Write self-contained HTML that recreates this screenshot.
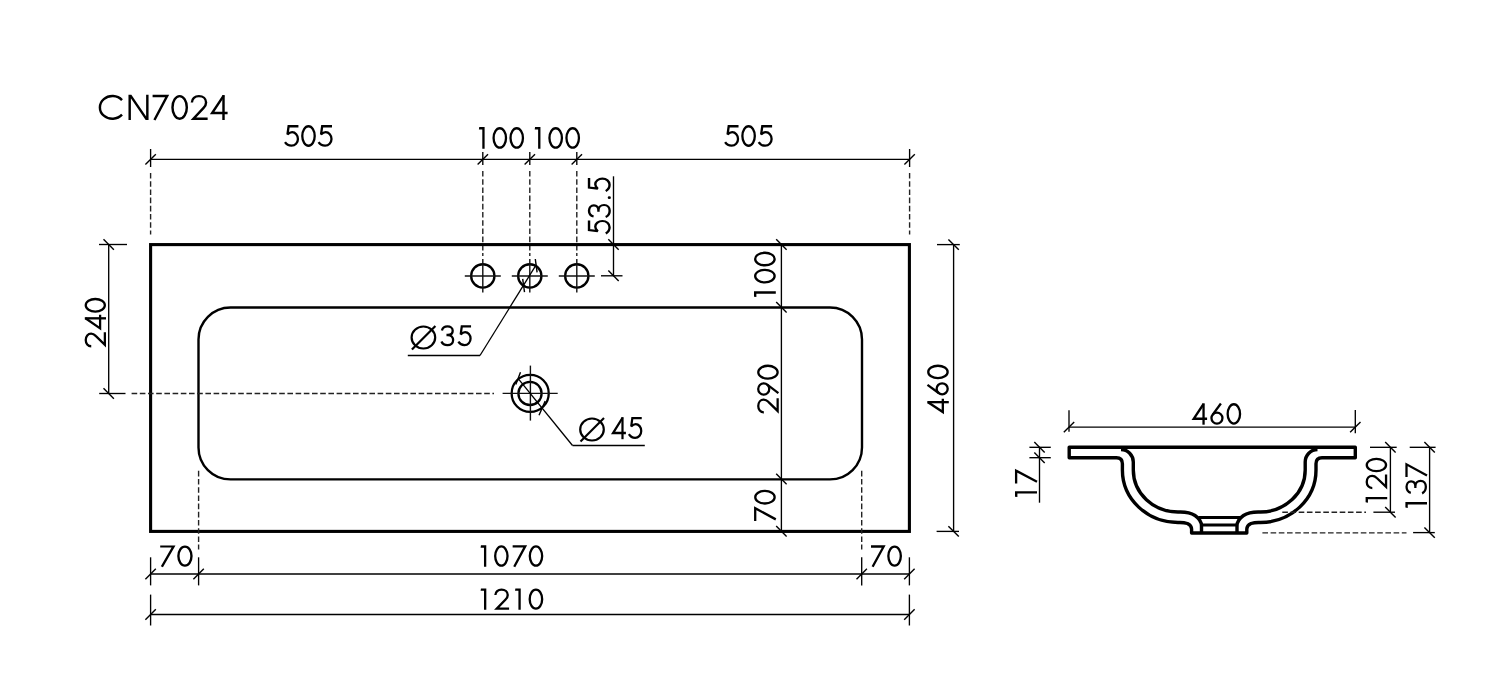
<!DOCTYPE html>
<html><head><meta charset="utf-8"><style>
html,body{margin:0;padding:0;background:#fff;width:1510px;height:693px;overflow:hidden}
svg{display:block}
.d{stroke:#000;stroke-width:1.35;fill:none}
.t{stroke:#000;stroke-width:1.4;fill:none}
.ds{stroke:#222;stroke-width:1.4;stroke-dasharray:5.6 2.6;fill:none}
.m{stroke:#000;stroke-width:3.1;fill:none}
.b{stroke:#000;stroke-width:2.4;fill:none}
.h{stroke:#000;stroke-width:2.3;fill:none}
.c{stroke:#111;stroke-width:1.4;fill:none}
.l{stroke:#000;stroke-width:1.3;fill:none}
.dm{stroke:#000;stroke-width:2.2;fill:none}
.s{stroke:#000;stroke-width:3.4;fill:none;stroke-linejoin:round}
.gl{fill:none;stroke:#000;stroke-linecap:butt;stroke-linejoin:miter;stroke-miterlimit:6}
.s2{stroke:#000;stroke-width:3;fill:none}
</style></head><body>
<svg width="1510" height="693" viewBox="0 0 1510 693">
<g class="gl" transform="matrix(1.15398 0 0 1.16667 98.70 94.80)" style="stroke-width:2.111"><g transform="translate(0.00 0)"><path d="M20.2,4.53 A10.85,9.75 0 1 0 20.2,17.07"/></g><g transform="translate(25.80 0)"><path d="M0,0 L2.5,0 L17.4,21.6 L14.9,21.6 Z M0,0 L2.1,0 L2.1,21.6 L0,21.6 Z M15.3,0 L17.4,0 L17.4,21.6 L15.3,21.6 Z" style="fill:#000;stroke:none"/></g><g transform="translate(46.70 0)"><path d="M0.0,1.1 L12.6,1.1 L1.6,21.6"/></g><g transform="translate(62.80 0)"><ellipse cx="7.35" cy="10.8" rx="6.2" ry="9.65"/></g><g transform="translate(79.50 0)"><path d="M1.25,6.7 C1.25,3.3 3.9,1.15 7.35,1.15 C10.9,1.15 13.55,3.4 13.55,6.6 C13.55,8.5 12.7,9.9 11.4,11.2 L2.6,20.45 L14.9,20.45"/></g><g transform="translate(96.70 0)"><path d="M11.45,0.2 L11.45,21.6"/><path d="M11.45,0.9 L1.6,15.65 L15.0,15.65"/></g></g>
<g class="gl" transform="matrix(1.00205 0 0 1.00926 284.10 125.10)" style="stroke-width:2.287"><g transform="translate(0.00 0)"><path style="stroke-miterlimit:2" d="M14.3,1.15 L4.5,1.15 L3.35,9.3 C4.8,7.9 6.3,7.0 8.0,7.0 C11.2,7.0 13.8,10.0 13.8,13.65 C13.8,17.4 11.0,20.35 7.4,20.35 C4.5,20.35 2.2,18.9 0.9,16.8"/></g><g transform="translate(17.00 0)"><ellipse cx="7.35" cy="10.8" rx="6.2" ry="9.65"/></g><g transform="translate(33.50 0)"><path style="stroke-miterlimit:2" d="M14.3,1.15 L4.5,1.15 L3.35,9.3 C4.8,7.9 6.3,7.0 8.0,7.0 C11.2,7.0 13.8,10.0 13.8,13.65 C13.8,17.4 11.0,20.35 7.4,20.35 C4.5,20.35 2.2,18.9 0.9,16.8"/></g></g>
<g class="gl" transform="matrix(1.00222 0 0 1.00463 478.90 127.10)" style="stroke-width:2.292"><g transform="translate(0.00 0)"><path d="M0.0,2.35 L0.35,0 L5.7,0 L5.7,21.6 L3.4,21.6 L3.4,2.35 Z" style="fill:#000;stroke:none"/></g><g transform="translate(13.50 0)"><ellipse cx="7.35" cy="10.8" rx="6.2" ry="9.65"/></g><g transform="translate(30.40 0)"><ellipse cx="7.35" cy="10.8" rx="6.2" ry="9.65"/></g></g>
<g class="gl" transform="matrix(1.00665 0 0 1.00463 534.70 127.10)" style="stroke-width:2.287"><g transform="translate(0.00 0)"><path d="M0.0,2.35 L0.35,0 L5.7,0 L5.7,21.6 L3.4,21.6 L3.4,2.35 Z" style="fill:#000;stroke:none"/></g><g transform="translate(13.50 0)"><ellipse cx="7.35" cy="10.8" rx="6.2" ry="9.65"/></g><g transform="translate(30.40 0)"><ellipse cx="7.35" cy="10.8" rx="6.2" ry="9.65"/></g></g>
<g class="gl" transform="matrix(1.00205 0 0 1.00926 724.20 125.10)" style="stroke-width:2.287"><g transform="translate(0.00 0)"><path style="stroke-miterlimit:2" d="M14.3,1.15 L4.5,1.15 L3.35,9.3 C4.8,7.9 6.3,7.0 8.0,7.0 C11.2,7.0 13.8,10.0 13.8,13.65 C13.8,17.4 11.0,20.35 7.4,20.35 C4.5,20.35 2.2,18.9 0.9,16.8"/></g><g transform="translate(17.00 0)"><ellipse cx="7.35" cy="10.8" rx="6.2" ry="9.65"/></g><g transform="translate(33.50 0)"><path style="stroke-miterlimit:2" d="M14.3,1.15 L4.5,1.15 L3.35,9.3 C4.8,7.9 6.3,7.0 8.0,7.0 C11.2,7.0 13.8,10.0 13.8,13.65 C13.8,17.4 11.0,20.35 7.4,20.35 C4.5,20.35 2.2,18.9 0.9,16.8"/></g></g>
<line class="d" x1="150.6" y1="159.4" x2="909.6" y2="159.4"/>
<line class="t" x1="145.4" y1="164.6" x2="155.79999999999998" y2="154.20000000000002"/>
<line class="t" x1="477.6" y1="164.6" x2="488.0" y2="154.20000000000002"/>
<line class="t" x1="524.5999999999999" y1="164.6" x2="535.0" y2="154.20000000000002"/>
<line class="t" x1="571.5999999999999" y1="164.6" x2="582.0" y2="154.20000000000002"/>
<line class="t" x1="904.4" y1="164.6" x2="914.8000000000001" y2="154.20000000000002"/>
<line class="d" x1="150.6" y1="149" x2="150.6" y2="167"/>
<line class="ds" x1="150.6" y1="173" x2="150.6" y2="234.5"/>
<line class="d" x1="909.6" y1="149" x2="909.6" y2="167"/>
<line class="ds" x1="909.6" y1="173" x2="909.6" y2="234.5"/>
<line class="d" x1="482.8" y1="152" x2="482.8" y2="165"/>
<line class="ds" x1="482.8" y1="171" x2="482.8" y2="256"/>
<line class="d" x1="529.8" y1="152" x2="529.8" y2="165"/>
<line class="ds" x1="529.8" y1="171" x2="529.8" y2="256"/>
<line class="d" x1="576.8" y1="152" x2="576.8" y2="165"/>
<line class="ds" x1="576.8" y1="171" x2="576.8" y2="256"/>
<rect class="m" x="150.6" y="244.6" width="758.8" height="286.8"/>
<rect class="b" x="198.5" y="307.45" width="663.5" height="171.95" rx="32" ry="32"/>
<circle class="h" cx="482.8" cy="275.9" r="11.65"/>
<line class="c" x1="464.8" y1="276" x2="500.8" y2="276"/>
<line class="c" x1="482.8" y1="259" x2="482.8" y2="292.6"/>
<circle class="h" cx="529.8" cy="275.9" r="11.65"/>
<line class="c" x1="511.79999999999995" y1="276" x2="547.8" y2="276"/>
<line class="c" x1="529.8" y1="259" x2="529.8" y2="292.6"/>
<circle class="h" cx="576.8" cy="275.9" r="11.65"/>
<line class="c" x1="558.8" y1="276" x2="594.8" y2="276"/>
<line class="c" x1="576.8" y1="259" x2="576.8" y2="292.6"/>
<line class="d" x1="613.5" y1="176.3" x2="613.5" y2="275.8"/>
<line class="t" x1="608.3" y1="239.3" x2="618.7" y2="249.7"/>
<line class="t" x1="608.3" y1="270.6" x2="618.7" y2="281.0"/>
<line class="d" x1="601" y1="275.8" x2="622.5" y2="275.8"/>
<g class="gl" transform="matrix(0 -0.96949 1.06944 0 587.80 234.40)" style="stroke-width:2.256"><g transform="translate(0.00 0)"><path style="stroke-miterlimit:2" d="M14.3,1.15 L4.5,1.15 L3.35,9.3 C4.8,7.9 6.3,7.0 8.0,7.0 C11.2,7.0 13.8,10.0 13.8,13.65 C13.8,17.4 11.0,20.35 7.4,20.35 C4.5,20.35 2.2,18.9 0.9,16.8"/></g><g transform="translate(17.20 0)"><path d="M1.3,5.4 C2.0,2.6 4.4,1.15 7.2,1.15 C10.3,1.15 12.7,3.0 12.7,5.7 C12.7,8.3 10.6,9.95 7.6,9.95 L6.1,9.95 M7.6,9.95 C11.0,9.95 13.15,12.3 13.15,15.2 C13.15,18.4 10.5,20.45 7.2,20.45 C4.2,20.45 1.8,19.0 0.8,16.7"/></g><g transform="translate(36.40 0)"><circle cx="1.5" cy="20.1" r="1.5" style="fill:#000;stroke:none"/></g><g transform="translate(43.80 0)"><path style="stroke-miterlimit:2" d="M14.3,1.15 L4.5,1.15 L3.35,9.3 C4.8,7.9 6.3,7.0 8.0,7.0 C11.2,7.0 13.8,10.0 13.8,13.65 C13.8,17.4 11.0,20.35 7.4,20.35 C4.5,20.35 2.2,18.9 0.9,16.8"/></g></g>
<line class="l" x1="536.0" y1="265.2" x2="480.0" y2="355.5"/>
<line class="l" x1="480.0" y1="355.5" x2="407.8" y2="355.5"/>
<line class="t" x1="535.3" y1="259" x2="537.1" y2="272.4"/>
<line class="t" x1="522.7" y1="278.9" x2="524.5" y2="292.2"/>
<ellipse class="dm" cx="423.4" cy="337.5" rx="11.8" ry="11.0"/>
<line class="dm" x1="411.9" y1="349.5" x2="435.4" y2="326.0"/>
<g class="gl" transform="matrix(0.94545 0 0 0.97222 440.70 325.30)" style="stroke-width:2.399"><g transform="translate(0.00 0)"><path d="M1.3,5.4 C2.0,2.6 4.4,1.15 7.2,1.15 C10.3,1.15 12.7,3.0 12.7,5.7 C12.7,8.3 10.6,9.95 7.6,9.95 L6.1,9.95 M7.6,9.95 C11.0,9.95 13.15,12.3 13.15,15.2 C13.15,18.4 10.5,20.45 7.2,20.45 C4.2,20.45 1.8,19.0 0.8,16.7"/></g><g transform="translate(17.80 0)"><path style="stroke-miterlimit:2" d="M14.3,1.15 L4.5,1.15 L3.35,9.3 C4.8,7.9 6.3,7.0 8.0,7.0 C11.2,7.0 13.8,10.0 13.8,13.65 C13.8,17.4 11.0,20.35 7.4,20.35 C4.5,20.35 2.2,18.9 0.9,16.8"/></g></g>
<circle class="h" cx="530.2" cy="393.4" r="18.55"/>
<circle class="h" cx="530.0" cy="393.4" r="11.6"/>
<line class="c" x1="530.4" y1="365.6" x2="530.4" y2="420.6"/>
<line class="c" x1="502.6" y1="393.4" x2="557.7" y2="393.4"/>
<line class="l" x1="519.0" y1="379.6" x2="572.5" y2="445.5"/>
<line class="l" x1="572.5" y1="445.5" x2="644.8" y2="445.5"/>
<line class="t" x1="515.8" y1="384.5" x2="520.5" y2="372.2"/>
<line class="t" x1="539.0" y1="415.2" x2="545.2" y2="401.0"/>
<ellipse class="dm" cx="592" cy="429.5" rx="11.8" ry="11.0"/>
<line class="dm" x1="580.5" y1="441.5" x2="604" y2="418.0"/>
<g class="gl" transform="matrix(0.95988 0 0 1.03241 611.50 416.90)" style="stroke-width:2.309"><g transform="translate(0.00 0)"><path d="M11.45,0.2 L11.45,21.6"/><path d="M11.45,0.9 L1.6,15.65 L15.0,15.65"/></g><g transform="translate(17.20 0)"><path style="stroke-miterlimit:2" d="M14.3,1.15 L4.5,1.15 L3.35,9.3 C4.8,7.9 6.3,7.0 8.0,7.0 C11.2,7.0 13.8,10.0 13.8,13.65 C13.8,17.4 11.0,20.35 7.4,20.35 C4.5,20.35 2.2,18.9 0.9,16.8"/></g></g>
<line class="d" x1="108.7" y1="244.5" x2="108.7" y2="393.5"/>
<line class="d" x1="99" y1="244.5" x2="127" y2="244.5"/>
<line class="d" x1="99.2" y1="393.5" x2="125.5" y2="393.5"/>
<line class="t" x1="103.5" y1="239.3" x2="113.9" y2="249.7"/>
<line class="t" x1="103.5" y1="388.3" x2="113.9" y2="398.7"/>
<line class="ds" x1="131.6" y1="393.5" x2="494" y2="393.5"/>
<g class="gl" transform="matrix(0 -1.01844 0.99074 0 84.60 347.50)" style="stroke-width:2.289"><g transform="translate(0.00 0)"><path d="M1.25,6.7 C1.25,3.3 3.9,1.15 7.35,1.15 C10.9,1.15 13.55,3.4 13.55,6.6 C13.55,8.5 12.7,9.9 11.4,11.2 L2.6,20.45 L14.9,20.45"/></g><g transform="translate(17.20 0)"><path d="M11.45,0.2 L11.45,21.6"/><path d="M11.45,0.9 L1.6,15.65 L15.0,15.65"/></g><g transform="translate(34.10 0)"><ellipse cx="7.35" cy="10.8" rx="6.2" ry="9.65"/></g></g>
<line class="d" x1="781.4" y1="243.8" x2="781.4" y2="531.3"/>
<line class="t" x1="776.1999999999999" y1="239.3" x2="786.6" y2="249.7"/>
<line class="t" x1="776.1999999999999" y1="302.0" x2="786.6" y2="312.4"/>
<line class="t" x1="776.1999999999999" y1="473.8" x2="786.6" y2="484.2"/>
<line class="t" x1="776.1999999999999" y1="526.0999999999999" x2="786.6" y2="536.5"/>
<g class="gl" transform="matrix(0 -1.00887 1.00926 0 754.00 297.10)" style="stroke-width:2.279"><g transform="translate(0.00 0)"><path d="M0.0,2.35 L0.35,0 L5.7,0 L5.7,21.6 L3.4,21.6 L3.4,2.35 Z" style="fill:#000;stroke:none"/></g><g transform="translate(13.50 0)"><ellipse cx="7.35" cy="10.8" rx="6.2" ry="9.65"/></g><g transform="translate(30.40 0)"><ellipse cx="7.35" cy="10.8" rx="6.2" ry="9.65"/></g></g>
<g class="gl" transform="matrix(0 -1.03594 1.00463 0 757.10 413.60)" style="stroke-width:2.254"><g transform="translate(0.00 0)"><path d="M1.25,6.7 C1.25,3.3 3.9,1.15 7.35,1.15 C10.9,1.15 13.55,3.4 13.55,6.6 C13.55,8.5 12.7,9.9 11.4,11.2 L2.6,20.45 L14.9,20.45"/></g><g transform="translate(17.10 0)"><circle cx="6.65" cy="6.6" r="5.5"/><path d="M2.7,21.2 L11.1,9.8"/></g><g transform="translate(32.60 0)"><ellipse cx="7.35" cy="10.8" rx="6.2" ry="9.65"/></g></g>
<g class="gl" transform="matrix(0 -1.01623 1.00463 0 754.10 521.00)" style="stroke-width:2.276"><g transform="translate(0.00 0)"><path d="M0.0,1.1 L12.6,1.1 L1.6,21.6"/></g><g transform="translate(16.10 0)"><ellipse cx="7.35" cy="10.8" rx="6.2" ry="9.65"/></g></g>
<line class="d" x1="953.6" y1="244.5" x2="953.6" y2="531.4"/>
<line class="d" x1="937" y1="244.6" x2="959.8" y2="244.6"/>
<line class="d" x1="936.6" y1="531.4" x2="959" y2="531.4"/>
<line class="t" x1="948.4" y1="239.4" x2="958.8000000000001" y2="249.79999999999998"/>
<line class="t" x1="948.4" y1="526.1999999999999" x2="958.8000000000001" y2="536.6"/>
<g class="gl" transform="matrix(0 -0.99796 1.00463 0 927.10 413.60)" style="stroke-width:2.297"><g transform="translate(0.00 0)"><path d="M11.45,0.2 L11.45,21.6"/><path d="M11.45,0.9 L1.6,15.65 L15.0,15.65"/></g><g transform="translate(18.20 0)"><circle cx="6.65" cy="15.0" r="5.5"/><path d="M10.6,0.4 L2.2,11.8"/></g><g transform="translate(34.40 0)"><ellipse cx="7.35" cy="10.8" rx="6.2" ry="9.65"/></g></g>
<line class="d" x1="150.6" y1="574.0" x2="909.4" y2="574.0"/>
<line class="t" x1="145.4" y1="579.2" x2="155.79999999999998" y2="568.8"/>
<line class="t" x1="193.4" y1="579.2" x2="203.79999999999998" y2="568.8"/>
<line class="t" x1="856.5" y1="579.2" x2="866.9000000000001" y2="568.8"/>
<line class="t" x1="904.1999999999999" y1="579.2" x2="914.6" y2="568.8"/>
<line class="d" x1="150.6" y1="614.5" x2="909.4" y2="614.5"/>
<line class="t" x1="145.4" y1="619.7" x2="155.79999999999998" y2="609.3"/>
<line class="t" x1="904.1999999999999" y1="619.7" x2="914.6" y2="609.3"/>
<line class="d" x1="150.6" y1="557.3" x2="150.6" y2="585.4"/>
<line class="d" x1="150.6" y1="594.6" x2="150.6" y2="625.5"/>
<line class="d" x1="909.4" y1="557.3" x2="909.4" y2="585.4"/>
<line class="d" x1="909.4" y1="594.6" x2="909.4" y2="625.5"/>
<line class="ds" x1="198.6" y1="470.8" x2="198.6" y2="549.4"/>
<line class="d" x1="198.6" y1="557.3" x2="198.6" y2="585.4"/>
<line class="ds" x1="861.7" y1="470.8" x2="861.7" y2="549.4"/>
<line class="d" x1="861.7" y1="557.3" x2="861.7" y2="585.4"/>
<g class="gl" transform="matrix(1.05519 0 0 0.99074 160.20 545.40)" style="stroke-width:2.248"><g transform="translate(0.00 0)"><path d="M0.0,1.1 L12.6,1.1 L1.6,21.6"/></g><g transform="translate(16.10 0)"><ellipse cx="7.35" cy="10.8" rx="6.2" ry="9.65"/></g></g>
<g class="gl" transform="matrix(0.99524 0 0 0.99537 480.60 545.30)" style="stroke-width:2.311"><g transform="translate(0.00 0)"><path d="M0.0,2.35 L0.35,0 L5.7,0 L5.7,21.6 L3.4,21.6 L3.4,2.35 Z" style="fill:#000;stroke:none"/></g><g transform="translate(13.50 0)"><ellipse cx="7.35" cy="10.8" rx="6.2" ry="9.65"/></g><g transform="translate(32.20 0)"><path d="M0.0,1.1 L12.6,1.1 L1.6,21.6"/></g><g transform="translate(48.30 0)"><ellipse cx="7.35" cy="10.8" rx="6.2" ry="9.65"/></g></g>
<g class="gl" transform="matrix(1.00649 0 0 0.99074 871.00 545.40)" style="stroke-width:2.303"><g transform="translate(0.00 0)"><path d="M0.0,1.1 L12.6,1.1 L1.6,21.6"/></g><g transform="translate(16.10 0)"><ellipse cx="7.35" cy="10.8" rx="6.2" ry="9.65"/></g></g>
<g class="gl" transform="matrix(1.00320 0 0 0.98611 480.60 588.50)" style="stroke-width:2.312"><g transform="translate(0.00 0)"><path d="M0.0,2.35 L0.35,0 L5.7,0 L5.7,21.6 L3.4,21.6 L3.4,2.35 Z" style="fill:#000;stroke:none"/></g><g transform="translate(13.50 0)"><path d="M1.25,6.7 C1.25,3.3 3.9,1.15 7.35,1.15 C10.9,1.15 13.55,3.4 13.55,6.6 C13.55,8.5 12.7,9.9 11.4,11.2 L2.6,20.45 L14.9,20.45"/></g><g transform="translate(34.30 0)"><path d="M0.0,2.35 L0.35,0 L5.7,0 L5.7,21.6 L3.4,21.6 L3.4,2.35 Z" style="fill:#000;stroke:none"/></g><g transform="translate(47.80 0)"><ellipse cx="7.35" cy="10.8" rx="6.2" ry="9.65"/></g></g>
<g class="gl" transform="matrix(1.00000 0 0 1.00000 1192.10 403.10)" style="stroke-width:2.300"><g transform="translate(0.00 0)"><path d="M11.45,0.2 L11.45,21.6"/><path d="M11.45,0.9 L1.6,15.65 L15.0,15.65"/></g><g transform="translate(18.20 0)"><circle cx="6.65" cy="15.0" r="5.5"/><path d="M10.6,0.4 L2.2,11.8"/></g><g transform="translate(34.40 0)"><ellipse cx="7.35" cy="10.8" rx="6.2" ry="9.65"/></g></g>
<line class="d" x1="1069.0" y1="427.1" x2="1355.3" y2="427.1"/>
<line class="d" x1="1069.0" y1="410.2" x2="1069.0" y2="431.8"/>
<line class="d" x1="1355.3" y1="410.1" x2="1355.3" y2="433.3"/>
<line class="t" x1="1063.8" y1="432.3" x2="1074.2" y2="421.90000000000003"/>
<line class="t" x1="1350.1" y1="432.3" x2="1360.5" y2="421.90000000000003"/>
<path class="s" d="M1069.2,447.2 L1355.3,447.2 L1355.3,457.8 L1322,457.8 Q1316,457.8 1316,463.8 L1316,470 A55.6,52.5 0 0 1 1260.4,522.5 Q1255,522.2 1251,523.5 Q1246.8,525.5 1246.8,529 L1246.8,533 L1191.6,533 L1191.6,529 Q1191.6,525.5 1187.4,523.5 Q1183.4,522.2 1178,522.5 A55.6,52.5 0 0 1 1122.4,470 L1122.4,463.8 Q1122.4,457.8 1116.4,457.8 L1069.2,457.8 Z"/>
<path class="s" d="M1121,449.5 A12.5,12.5 0 0 1 1133.3,462 L1133.3,470 A44.7,42 0 0 0 1178,512 Q1189,511.5 1195,515.5 Q1201.5,520 1201.5,526 L1201.5,533 M1237,533 L1237,526 Q1237,520 1243.5,515.5 Q1249.5,511.5 1260.5,512 A45,42 0 0 0 1305.2,470 L1305.2,462 A12.5,12.5 0 0 1 1317.5,449.5"/>
<line class="s2" x1="1198.5" y1="517.6" x2="1240" y2="517.6"/>
<line class="s2" x1="1201.5" y1="525.1" x2="1237" y2="525.1"/>
<line class="d" x1="1039.5" y1="447.3" x2="1039.5" y2="502.7"/>
<line class="d" x1="1029.4" y1="447.3" x2="1050.8" y2="447.3"/>
<line class="d" x1="1029.4" y1="457.7" x2="1050.8" y2="457.7"/>
<line class="t" x1="1034.3" y1="442.1" x2="1044.7" y2="452.5"/>
<line class="t" x1="1034.3" y1="452.5" x2="1044.7" y2="462.9"/>
<g class="gl" transform="matrix(0 -1.00727 1.01852 0 1015.00 497.00)" style="stroke-width:2.271"><g transform="translate(0.00 0)"><path d="M0.0,2.35 L0.35,0 L5.7,0 L5.7,21.6 L3.4,21.6 L3.4,2.35 Z" style="fill:#000;stroke:none"/></g><g transform="translate(13.50 0)"><path d="M0.0,1.1 L12.6,1.1 L1.6,21.6"/></g></g>
<line class="d" x1="1370" y1="447.3" x2="1396.7" y2="447.3"/>
<line class="d" x1="1390.4" y1="447.3" x2="1390.4" y2="512.2"/>
<line class="d" x1="1373.4" y1="512.2" x2="1395" y2="512.2"/>
<line class="t" x1="1385.2" y1="442.1" x2="1395.6000000000001" y2="452.5"/>
<line class="t" x1="1385.2" y1="507.00000000000006" x2="1395.6000000000001" y2="517.4000000000001"/>
<line class="ds" x1="1282.3" y1="512.3" x2="1366" y2="512.3"/>
<g class="gl" transform="matrix(0 -0.99338 1.00000 0 1365.60 502.70)" style="stroke-width:2.308"><g transform="translate(0.00 0)"><path d="M0.0,2.35 L0.35,0 L5.7,0 L5.7,21.6 L3.4,21.6 L3.4,2.35 Z" style="fill:#000;stroke:none"/></g><g transform="translate(13.50 0)"><path d="M1.25,6.7 C1.25,3.3 3.9,1.15 7.35,1.15 C10.9,1.15 13.55,3.4 13.55,6.6 C13.55,8.5 12.7,9.9 11.4,11.2 L2.6,20.45 L14.9,20.45"/></g><g transform="translate(30.60 0)"><ellipse cx="7.35" cy="10.8" rx="6.2" ry="9.65"/></g></g>
<line class="d" x1="1409.7" y1="447.3" x2="1435.6" y2="447.3"/>
<line class="d" x1="1429.6" y1="447.3" x2="1429.6" y2="532.4"/>
<line class="d" x1="1413.1" y1="532.6" x2="1434.8" y2="532.6"/>
<line class="t" x1="1424.3999999999999" y1="442.1" x2="1434.8" y2="452.5"/>
<line class="t" x1="1424.3999999999999" y1="527.4" x2="1434.8" y2="537.8000000000001"/>
<line class="ds" x1="1262.4" y1="532.9" x2="1406.5" y2="532.9"/>
<g class="gl" transform="matrix(0 -1.01580 1.00000 0 1405.40 507.90)" style="stroke-width:2.282"><g transform="translate(0.00 0)"><path d="M0.0,2.35 L0.35,0 L5.7,0 L5.7,21.6 L3.4,21.6 L3.4,2.35 Z" style="fill:#000;stroke:none"/></g><g transform="translate(13.50 0)"><path d="M1.3,5.4 C2.0,2.6 4.4,1.15 7.2,1.15 C10.3,1.15 12.7,3.0 12.7,5.7 C12.7,8.3 10.6,9.95 7.6,9.95 L6.1,9.95 M7.6,9.95 C11.0,9.95 13.15,12.3 13.15,15.2 C13.15,18.4 10.5,20.45 7.2,20.45 C4.2,20.45 1.8,19.0 0.8,16.7"/></g><g transform="translate(30.30 0)"><path d="M0.0,1.1 L12.6,1.1 L1.6,21.6"/></g></g>
</svg>
</body></html>
